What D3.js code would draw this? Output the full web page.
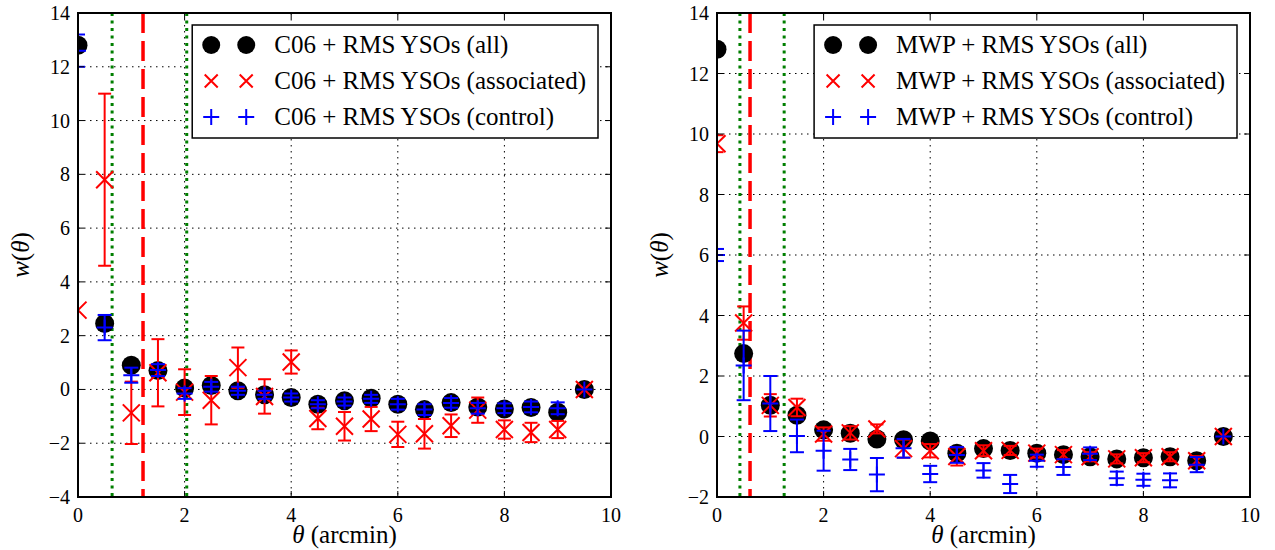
<!DOCTYPE html>
<html><head><meta charset="utf-8">
<script src="https://cdn.jsdelivr.net/npm/d3@7"></script>
<style>body{margin:0;background:#fff}svg{display:block}</style>
</head><body><svg id="c" width="1275" height="550"></svg>
<script>
const theta = [0,0.5,1,1.5,2,2.5,3,3.5,4,4.5,5,5.5,6,6.5,7,7.5,8,8.5,9,9.5];
const xTicks = [0,2,4,6,8,10];
const yTicksLeft = [-4,-2,0,2,4,6,8,10,12,14];
const yTicksRight = [-2,0,2,4,6,8,10,12,14];

// Left panel: C06
const c06All      = [12.8,2.45,0.9,0.7,0.05,0.15,-0.05,-0.2,-0.3,-0.55,-0.42,-0.33,-0.55,-0.75,-0.49,-0.65,-0.73,-0.67,-0.85,0];
const c06AllErr   = [0.2,0.2,0.12,0.12,0.1,0.1,0.1,0.1,0.1,0.1,0.1,0.1,0.1,0.1,0.1,0.1,0.1,0.1,0.1,0];
const c06Assoc    = [2.95,7.8,-0.87,0.62,-0.1,-0.4,0.81,-0.26,1.02,-1.08,-1.37,-1.1,-1.67,-1.65,-1.35,-0.77,-1.49,-1.6,-1.49,0];
const c06AssocErr = [0,3.2,1.16,1.25,0.85,0.9,0.75,0.64,0.43,0.4,0.53,0.45,0.47,0.55,0.42,0.47,0.34,0.36,0.32,0];
const c06Ctrl     = [12.6,2.3,0.53,0.72,-0.15,0.1,-0.05,-0.2,-0.3,-0.55,-0.45,-0.35,-0.55,-0.75,-0.5,-0.7,-0.7,-0.65,-0.7,0];
const c06CtrlErr  = [0.6,0.47,0.28,0.22,0.2,0.18,0.15,0.15,0.15,0.15,0.15,0.15,0.2,0.2,0.18,0.2,0.18,0.2,0.22,0];
const c06Green = [0.64,2.04];
const c06Red = [1.22];

// Right panel: MWP
const mwpAll      = [12.8,2.74,1.03,0.7,0.22,0.11,-0.08,-0.11,-0.15,-0.55,-0.4,-0.46,-0.55,-0.6,-0.67,-0.74,-0.7,-0.67,-0.8,0];
const mwpAllErr   = [0.2,0.15,0.12,0.1,0.08,0.08,0.08,0.08,0.08,0.08,0.08,0.08,0.08,0.08,0.08,0.08,0.08,0.08,0.08,0];
const mwpAssoc    = [9.68,3.75,1.03,0.96,0.08,0.12,0.25,-0.4,-0.47,-0.66,-0.47,-0.46,-0.55,-0.6,-0.67,-0.74,-0.7,-0.67,-0.8,0];
const mwpAssocErr = [0.28,0.55,0.37,0.29,0.22,0.22,0.15,0.3,0.22,0.3,0.18,0.15,0.15,0.15,0.15,0.15,0.15,0.15,0.15,0];
const mwpCtrl     = [6.0,2.35,1.09,0.02,-0.47,-0.76,-1.26,-0.39,-1.24,-0.61,-1.12,-1.57,-0.8,-1.01,-0.57,-1.38,-1.43,-1.45,-0.93,0];
const mwpCtrlErr  = [0.2,1.15,0.91,0.54,0.66,0.35,0.55,0.31,0.27,0.26,0.24,0.3,0.2,0.26,0.21,0.22,0.2,0.23,0.25,0];
const mwpGreen = [0.43,1.26];
const mwpRed = [0.62];

const FONT = '"Liberation Serif", "Times New Roman", serif';
const svg = d3.select("#c");

function panel(o){
  const {x0,x1,y0,y1,ydom,yticks,name,all,allErr,assoc,assocErr,ctrl,ctrlErr,green,red,id} = o;
  const x = d3.scaleLinear().domain([0,10]).range([x0,x1]);
  const y = d3.scaleLinear().domain(ydom).range([y1,y0]);
  const g = svg.append("g");
  g.append("clipPath").attr("id",id).append("rect").attr("x",x0).attr("y",y0).attr("width",x1-x0).attr("height",y1-y0);
  const grid = g.append("g").attr("stroke","#000").attr("stroke-width",1).attr("stroke-dasharray","1.5,4.5");
  grid.selectAll(".gx").data(xTicks.slice(1,-1)).join("line").attr("x1",d=>x(d)).attr("x2",d=>x(d)).attr("y1",y0).attr("y2",y1);
  grid.selectAll(".gy").data(yticks.slice(1,-1)).join("line").attr("y1",d=>y(d)).attr("y2",d=>y(d)).attr("x1",x0).attr("x2",x1);
  const pg = g.append("g").attr("clip-path",`url(#${id})`);
  pg.selectAll(".vg").data(green).join("line").attr("x1",d=>x(d)).attr("x2",d=>x(d)).attr("y1",y0).attr("y2",y1)
    .attr("stroke","#007f00").attr("stroke-width",3).attr("stroke-dasharray","3,4.5");
  pg.selectAll(".vr").data(red).join("line").attr("x1",d=>x(d)).attr("x2",d=>x(d)).attr("y1",y0).attr("y2",y1)
    .attr("stroke","#ff0000").attr("stroke-width",3.5).attr("stroke-dasharray","20,8");
  function errbars(vals,errs,color,cap){
    const eg = pg.append("g").attr("stroke",color).attr("stroke-width",2).attr("fill","none");
    const d = theta.map((t,i)=>({t,v:vals[i],e:errs[i]})).filter(p=>p.e>0);
    eg.selectAll(".v").data(d).join("line").attr("x1",p=>x(p.t)).attr("x2",p=>x(p.t)).attr("y1",p=>y(p.v-p.e)).attr("y2",p=>y(p.v+p.e));
    eg.selectAll(".ct").data(d).join("line").attr("x1",p=>x(p.t)-cap).attr("x2",p=>x(p.t)+cap).attr("y1",p=>y(p.v+p.e)).attr("y2",p=>y(p.v+p.e));
    eg.selectAll(".cb").data(d).join("line").attr("x1",p=>x(p.t)-cap).attr("x2",p=>x(p.t)+cap).attr("y1",p=>y(p.v-p.e)).attr("y2",p=>y(p.v-p.e));
  }
  errbars(all,allErr,"#000",6);
  pg.selectAll(".circ").data(theta).join("circle").attr("cx",d=>x(d)).attr("cy",(d,i)=>y(all[i])).attr("r",9.5).attr("fill","#000");
  errbars(assoc,assocErr,"#ff0000",6.5);
  pg.selectAll(".xm").data(theta).join("path").attr("d",(d,i)=>{const cx=x(d),cy=y(assoc[i]),s=8.5;return `M${cx-s},${cy-s}L${cx+s},${cy+s}M${cx-s},${cy+s}L${cx+s},${cy-s}`;})
    .attr("stroke","#ff0000").attr("stroke-width",2).attr("fill","none");
  errbars(ctrl,ctrlErr,"#0000ff",7);
  pg.selectAll(".pm").data(theta).join("path").attr("d",(d,i)=>{const cx=x(d),cy=y(ctrl[i]),s=8;return `M${cx-s},${cy}L${cx+s},${cy}M${cx},${cy-s}L${cx},${cy+s}`;})
    .attr("stroke","#0000ff").attr("stroke-width",2).attr("fill","none");
  g.append("rect").attr("x",x0).attr("y",y0).attr("width",x1-x0).attr("height",y1-y0).attr("fill","none").attr("stroke","#000").attr("stroke-width",2);
  const tk = g.append("g").attr("stroke","#000").attr("stroke-width",1);
  xTicks.forEach(t=>{tk.append("line").attr("x1",x(t)).attr("x2",x(t)).attr("y1",y1).attr("y2",y1-6);tk.append("line").attr("x1",x(t)).attr("x2",x(t)).attr("y1",y0).attr("y2",y0+6);});
  yticks.forEach(t=>{tk.append("line").attr("y1",y(t)).attr("y2",y(t)).attr("x1",x0).attr("x2",x0+6);tk.append("line").attr("y1",y(t)).attr("y2",y(t)).attr("x1",x1).attr("x2",x1-6);});
  const fmt = v => v<0 ? "\u2212"+Math.abs(v) : String(v);
  g.selectAll(".xl").data(xTicks).join("text").attr("x",d=>x(d)).attr("y",y1+25).attr("text-anchor","middle").attr("font-size",20).style("font-family",FONT).text(fmt);
  g.selectAll(".yl").data(yticks).join("text").attr("x",x0-8).attr("y",d=>y(d)+7).attr("text-anchor","end").attr("font-size",20).style("font-family",FONT).text(fmt);
  const xl = g.append("text").attr("x",(x0+x1)/2).attr("y",y1+46).attr("text-anchor","middle").attr("font-size",25).style("font-family",FONT);
  xl.append("tspan").attr("font-style","italic").text("\u03b8");
  xl.append("tspan").text(" (arcmin)");
  const yl = g.append("text").attr("transform",`translate(${x0-49},${(y0+y1)/2}) rotate(-90)`).attr("text-anchor","middle").attr("font-size",25).style("font-family",FONT);
  yl.append("tspan").attr("font-style","italic").text("w");
  yl.append("tspan").text("(");
  yl.append("tspan").attr("font-style","italic").text("\u03b8");
  yl.append("tspan").text(")");
  // legend
  const ly = y0 + 12;
  const lg = g.append("g");
  const box = lg.append("rect").attr("y",ly).attr("height",113).attr("fill","#fff").attr("stroke","#000").attr("stroke-width",1.5);
  const rows = [name+" + RMS YSOs (all)", name+" + RMS YSOs (associated)", name+" + RMS YSOs (control)"];
  const items = lg.append("g");
  let maxW = 0;
  rows.forEach((r,i)=>{
    const t = items.append("text").attr("x",82).attr("y",ly+20+i*36+8).attr("font-size",25).style("font-family",FONT).text(r);
    maxW = Math.max(maxW, t.node().getComputedTextLength());
  });
  const w = 82 + maxW + 12;
  const lx = x1 - 13 - w;
  box.attr("x",lx).attr("width",w);
  items.attr("transform",`translate(${lx},0)`);
  rows.forEach((r,i)=>{
    const cy = ly + 20 + i*36;
    [lx+19, lx+54].forEach(mx=>{
      if(i===0) lg.append("circle").attr("cx",mx).attr("cy",cy).attr("r",9).attr("fill","#000");
      else if(i===1){const s=6.5;lg.append("path").attr("d",`M${mx-s},${cy-s}L${mx+s},${cy+s}M${mx-s},${cy+s}L${mx+s},${cy-s}`).attr("stroke","#ff0000").attr("stroke-width",2);}
      else {const s=8;lg.append("path").attr("d",`M${mx-s},${cy}L${mx+s},${cy}M${mx},${cy-s}L${mx},${cy+s}`).attr("stroke","#0000ff").attr("stroke-width",2);}
    });
  });
}

panel({id:"cl",x0:78,x1:611,y0:13,y1:497,ydom:[-4,14],yticks:yTicksLeft,name:"C06",
  all:c06All,allErr:c06AllErr,assoc:c06Assoc,assocErr:c06AssocErr,ctrl:c06Ctrl,ctrlErr:c06CtrlErr,green:c06Green,red:c06Red});
panel({id:"cr",x0:717,x1:1250,y0:13,y1:497,ydom:[-2,14],yticks:yTicksRight,name:"MWP",
  all:mwpAll,allErr:mwpAllErr,assoc:mwpAssoc,assocErr:mwpAssocErr,ctrl:mwpCtrl,ctrlErr:mwpCtrlErr,green:mwpGreen,red:mwpRed});
</script></body></html>
